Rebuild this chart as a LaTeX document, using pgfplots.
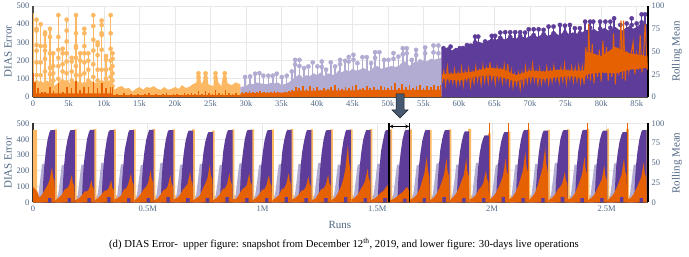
\documentclass[border=0pt]{standalone}
\usepackage{fontspec}
\setmainfont{Liberation Serif}
\usepackage{pgfplots}
\pgfplotsset{compat=1.18}
\definecolor{cL}{HTML}{FDB863}
\definecolor{cV}{HTML}{B2ABD2}
\definecolor{cP}{HTML}{5E3C99}
\definecolor{cO}{HTML}{E66101}
\definecolor{cT}{HTML}{506784}
\definecolor{cG}{HTML}{E8E8E8}
\definecolor{cA}{HTML}{46596F}
\pgfplotsset{
  base/.style={scale only axis,width=615pt,anchor=south west,
    /pgf/number format/assume math mode=true,
    tick style={draw=none},
    tick label style={font=\fontsize{8.5}{10}\selectfont,text=cT},
    label style={font=\fontsize{11}{13}\selectfont,text=cT},
    ymin=0,
    clip=true},
  stems/.style={ycomb,mark=none,line width=1.5pt},
  dots/.style={only marks,mark=*,mark size=2.1pt},
  table/dayx/.style={row sep=\\,header=false,x expr=0.096+\thisrowno{0}*0.08595,y index=1}
}
\begin{document}
\begin{tikzpicture}[x=1pt,y=1pt]
\useasboundingbox (0,0) rectangle (689,257);
%% ---------- upper, left scale
\begin{axis}[base,at={(33pt,160pt)},height=91pt,xmin=0,xmax=86.6,ymax=500,
  axis x line*=bottom,axis y line*=left,axis line style={draw=black!70,line width=1.3pt,-},
  grid=major,grid style={cG,line width=0.9pt},
  xtick={0,5,10,15,20,25,30,35,40,45,50,55,60,65,70,75,80,85},
  xticklabels={0,5k,10k,15k,20k,25k,30k,35k,40k,45k,50k,55k,60k,65k,70k,75k,80k,85k},
  ytick={0,100,200,300,400,500},
  ylabel={DIAS Error},ylabel style={at={(axis description cs:-0.0407,0.5)},anchor=center}]
% light orange: stems up to the top of each group of points
\addplot[stems,cL] coordinates {(0.05,460)(0.5,425)(1.08,400)(1.69,355)(2.39,375)(2.85,240)(3.57,450)(4.18,265)(4.74,425)(5.45,215)(6.05,450)(6.65,240)(7.23,375)(7.79,240)(8.49,450)(9.1,300)(9.67,420)(10.28,225)(10.94,450)(11.2,240)};
\addplot[fill=cL,draw=none] coordinates {(0,0)(0,85)(1,70)(2,90)(3,60)(4,95)(5,75)(6,90)(7,70)(8,90)(9,75)(10,85)(11.2,95)(11.2,0)};
\addplot[dots,cL] coordinates {
(0.5,425)(0.5,375)(0.5,365)(0.5,285)(0.5,255)(0.5,190)(0.5,120)(0.5,80)(0.5,40)
(1.08,400)(1.08,280)(1.08,190)(1.08,120)(1.08,75)(1.08,35)
(1.69,355)(1.69,345)(1.69,280)(1.69,255)(1.69,210)(1.69,140)(1.69,70)
(2.39,375)(2.39,330)(2.39,240)(2.39,160)(2.39,125)(2.39,70)(2.39,30)
(2.85,240)(2.85,170)(2.85,130)(2.85,90)(2.85,50)
(3.57,450)(3.57,330)(3.57,260)(3.57,215)(3.57,170)(3.57,100)(3.57,50)
(4.18,265)(4.18,240)(4.18,180)(4.18,140)(4.18,85)(4.18,40)
(4.74,425)(4.74,365)(4.74,305)(4.74,240)(4.74,195)(4.74,130)(4.74,80)(4.74,30)
(5.45,215)(5.45,195)(5.45,140)(5.45,90)(5.45,50)
(6.05,450)(6.05,350)(6.05,280)(6.05,270)(6.05,215)(6.05,170)(6.05,120)(6.05,60)
(6.65,240)(6.65,200)(6.65,120)(6.65,70)(6.65,40)
(7.23,375)(7.23,350)(7.23,280)(7.23,240)(7.23,190)(7.23,130)(7.23,70)
(7.79,240)(7.79,200)(7.79,150)(7.79,90)(7.79,40)
(8.49,450)(8.49,390)(8.49,315)(8.49,255)(8.49,180)(8.49,110)(8.49,60)
(9.1,300)(9.1,285)(9.1,230)(9.1,150)(9.1,90)(9.1,50)
(9.67,420)(9.67,395)(9.67,350)(9.67,340)(9.67,260)(9.67,150)(9.67,80)
(10.28,225)(10.28,205)(10.28,150)(10.28,100)(10.28,50)
(10.94,450)(10.94,350)(10.94,265)(10.94,200)(10.94,155)(10.94,110)(10.94,70)
(11.2,240)(11.2,210)(11.2,170)(11.2,130)(11.2,90)(11.2,60)(11.2,30)
(23.3,130)(23.3,110)(24.3,130)(24.3,105)(25.7,130)(25.7,105)(27,130)(27,100)};
\addplot[fill=cL,draw=none] coordinates {(11.0,0)(11.2,60)(11.5,40)(12,55)(12.5,60)(13,45)(13.5,50)(14,30)(14.5,45)(15,55)(15.5,40)(16,55)(16.5,50)(17,60)(17.5,45)(18,40)(18.5,55)(19,40)(19.5,45)(20,55)(20.5,45)(21,65)(21.5,50)(22,55)(22.5,70)(23,80)(23.15,130)(23.45,130)(23.7,70)(24,90)(24.15,130)(24.45,130)(24.7,70)(25,65)(25.4,60)(25.55,130)(25.85,130)(26.1,80)(26.5,60)(26.85,130)(27.15,130)(27.4,75)(28,65)(28.5,80)(29.2,70)(29.2,0)};
% lavender
\addplot[stems,cV] coordinates {(29.86,110)(30.57,113)(31.27,128)(31.88,131)(32.44,117)(33.15,117)(33.76,117)(34.32,128)(35.03,110)(35.73,117)(36.44,140)(36.91,204)(37.52,204)(38.17,159)(38.78,168)(39.39,190)(40.05,168)(40.66,195)(41.27,150)(41.93,190)(42.54,168)(43.24,204)(43.95,199)(44.46,195)(45.12,232)(45.68,186)(46.39,219)(47,219)(47.61,186)(48.17,246)(48.78,246)(49.44,204)(50.05,204)(50.76,241)(51.46,222)(52.07,268)(52.63,268)(53.34,204)(53.95,259)(54.51,195)(55.22,272)(56.39,283)(57.09,283)};
\addplot[dots,cV] coordinates {(29.86,110)(30.57,113)(31.27,128)(31.88,131)(32.44,117)(33.15,117)(33.76,117)(34.32,128)(35.03,110)(35.73,117)(36.44,140)(36.91,204)(36.91,178)(37.52,204)(37.52,170)(38.17,159)(38.78,168)(39.39,190)(40.05,168)(40.66,195)(40.66,165)(41.27,150)(41.93,190)(42.54,168)(43.24,204)(43.24,180)(43.95,199)(44.46,195)(44.46,220)(45.12,232)(45.12,205)(45.68,186)(46.39,219)(47,219)(47.61,186)(48.17,246)(48.17,215)(48.78,246)(49.44,204)(50.05,204)(50.76,241)(50.76,210)(51.46,222)(52.07,268)(52.07,235)(52.63,268)(52.63,240)(53.34,204)(53.95,259)(53.95,230)(54.51,195)(55.22,272)(55.22,240)(56.39,283)(56.39,245)(57.09,283)(57.09,240)};
\addplot[fill=cV,draw=none] coordinates {(29.2,0)(29.2,55)(30,60)(30.5,75)(31,70)(31.5,80)(32,75)(32.5,72)(33,70)(33.5,78)(34,75)(34.5,80)(35,65)(35.5,72)(36,80)(36.5,95)(37,110)(37.5,125)(38,105)(38.5,120)(39,115)(39.5,130)(40,120)(40.5,135)(41,115)(41.5,130)(42,125)(42.5,120)(43,145)(43.5,135)(44,150)(44.5,140)(45,155)(45.5,145)(46,150)(46.5,160)(47,150)(47.5,140)(48,165)(48.5,170)(49,155)(49.5,160)(50,165)(50.5,170)(51,165)(51.5,170)(52,190)(52.5,195)(53,170)(53.5,185)(54,200)(54.5,175)(55,205)(55.5,195)(56,210)(56.5,205)(57.5,215)(57.5,0)};
% purple
\addplot[stems,cP] coordinates {(57.8,268)(58.8,277)(60.1,268)(61.1,285)(62.25,332)(62.7,332)(63.66,305)(64.6,336)(65.07,336)(65.8,354)(66.5,356)(67.2,356)(67.9,356)(68.6,356)(69.3,354)(69.8,372)(70.5,372)(71.2,372)(71.9,369)(72.6,387)(73.3,387)(74.2,396)(74.9,392)(75.6,396)(76.3,378)(77,378)(77.75,414)(78.45,414)(78.9,414)(79.86,414)(80.6,414)(81.3,414)(81.83,432)(82.7,396)(83.6,404)(84.3,432)(85,404)(85.7,454)(86.2,454)};
\addplot[dots,cP] coordinates {(57.8,268)(58.8,277)(60.1,268)(61.1,285)(62.25,332)(62.25,300)(62.7,332)(63.66,305)(64.6,336)(64.6,310)(65.07,336)(65.8,354)(65.8,325)(66.5,356)(67.2,356)(67.2,330)(67.9,356)(68.6,356)(68.6,335)(69.3,354)(69.8,372)(70.5,372)(70.5,340)(71.2,372)(71.9,369)(71.9,345)(72.6,387)(73.3,387)(73.3,350)(74.2,396)(74.9,392)(74.9,355)(75.6,396)(76.3,378)(77,378)(77,350)(77.75,414)(78.45,414)(78.45,380)(78.9,414)(79.86,414)(79.86,375)(80.6,414)(81.3,414)(81.3,380)(81.83,432)(82.7,396)(83.6,404)(84.3,432)(84.3,395)(85,404)(85.7,454)(85.7,410)(86.2,454)};
\addplot[fill=cP,draw=none] coordinates {(57.5,0)(57.5,260)(58,265)(58.5,275)(59,255)(59.5,270)(60,265)(60.5,282)(61,275)(61.5,295)(62,293)(62.5,305)(63,300)(63.5,295)(64,310)(64.5,315)(65,310)(65.5,320)(66,325)(66.5,315)(67,330)(67.5,325)(68,320)(68.5,335)(69,330)(69.5,325)(70,335)(70.5,345)(71,330)(71.5,340)(72,350)(72.5,335)(73,345)(73.5,355)(74,340)(74.5,350)(75,360)(75.5,345)(76,355)(76.5,350)(77,345)(77.5,360)(78,370)(78.5,365)(79,375)(79.5,360)(80,370)(80.5,380)(81,365)(81.5,375)(82,385)(82.5,370)(83,365)(83.5,380)(84,390)(84.5,375)(85,385)(85.5,400)(86,405)(86.6,400)(86.6,0)};
\end{axis}
%% ---------- upper, right scale
\begin{axis}[base,at={(33pt,160pt)},height=91pt,xmin=0,xmax=86.6,ymax=100,
  axis x line=none,axis y line*=right,axis line style={draw=black,line width=1.1pt,-},
  ytick={0,25,50,75,100},
  ylabel={Rolling Mean},ylabel style={at={(axis description cs:1.047,0.5)},anchor=center}]
\addplot[fill=cO,draw=none] coordinates {(0,0)(0,4)(11.2,4)(11.3,2)(29.2,2)(29.2,4)(36,5)(37,7)(57.5,8)(57.5,0)};
\addplot[fill=cO,draw=none] coordinates {(57.6,20)(60,18)(62,22)(64,24)(66,22)(68,17)(70,22)(72,20)(74,22)(76,23)(77.6,20)(78,25)(80,27)(82,26)(84,30)(86.5,32)(86.5,45)(84,48)(82,55)(80,45)(78,50)(77.6,29)(76,29)(74,30)(72,28)(70,29)(68,24)(66,31)(64,32)(62,28)(60,26)(57.6,25)};
\addplot[ycomb,mark=none,cO,line width=1.5pt] coordinates {(0.05,26)(0.25,16)(0.7,10)(1.3,6)(1.7,6)(2.4,11)(2.9,7)(3.6,15)(4.2,6)(4.8,11)(5.4,10)(6.05,18)(6.6,8)(7.2,11)(7.8,11)(8.5,16)(9.1,10)(9.7,15)(10.3,10)(10.9,11)(11.2,11)
(11.8,3)(12.3,2)(12.8,4)(13.3,2)(13.8,3)(14.3,2)(14.8,3)(15.3,2)(15.8,3)(16.3,4)(16.8,2)(17.3,3)(17.8,2)(18.3,3)(18.8,4)(19.3,2)(19.8,3)(20.3,3)(20.8,2)(21.3,4)(21.8,3)(22.3,4)(22.8,3)(23.3,7)(23.8,3)(24.3,7)(24.8,4)(25.3,3)(25.7,8)(26.2,4)(26.7,3)(27.1,8)(27.6,4)(28.1,3)(28.6,4)};
\addplot[ycomb,mark=none,cO,line width=1.7pt] coordinates {(29.5,6)(30,5)(30.5,7)(31,6)(31.5,5)(32,7)(32.5,6)(33,6)(33.5,5)(34,7)(34.5,6)(35,4)(35.5,5)(36,7)(36.5,8)(37,11)(37.5,10)(38,12)(38.5,9)(39,12)(39.5,10)(40,11)(40.5,8)(41,10)(41.5,9)(42,11)(42.5,13)(43,10)(43.5,9)(44,11)(44.5,10)(45,12)(45.5,13)(46,9)(46.5,10)(47,12)(47.5,10)(48,11)(48.5,9)(49,12)(49.5,11)(50,10)(50.5,12)(51,15)(51.5,10)(52,14)(52.5,11)(53,13)(53.5,10)(54,12)(54.5,13)(55,10)(55.5,12)(56,11)(56.5,13)(57,12)(57.4,13)};
\addplot[cO,line width=1pt,mark=none] coordinates {(57.6,15)(57.85,28)(58.1,13)(58.35,33)(58.6,17)(58.85,26)(59.1,16)(59.35,30)(59.6,14)(59.85,27)(60.1,15)(60.35,32)(60.6,13)(60.85,28)(61.1,18)(61.35,31)(61.6,12)(61.85,27)(62.1,15)(62.35,33)(62.6,18)(62.85,29)(63.1,14)(63.35,34)(63.6,17)(63.85,31)(64.1,16)(64.35,38)(64.6,19)(64.85,30)(65.1,15)(65.35,33)(65.6,19)(65.85,30)(66.1,16)(66.35,35)(66.6,18)(66.85,36)(67.1,14)(67.35,29)(67.6,11)(67.85,25)(68.1,14)(68.35,26)(68.6,9)(68.85,27)(69.1,13)(69.35,33)(69.6,16)(69.85,30)(70.1,17)(70.35,36)(70.6,18)(70.85,28)(71.1,14)(71.35,31)(71.6,15)(71.85,27)(72.1,17)(72.35,33)(72.6,15)(72.85,29)(73.1,17)(73.35,34)(73.6,19)(73.85,28)(74.1,16)(74.35,32)(74.6,18)(74.85,36)(75.1,15)(75.35,29)(75.6,19)(75.85,33)(76.1,17)(76.35,32)(76.6,18)(76.85,34)(77.1,16)(77.35,33)(77.6,14)(77.85,55)(78.1,20)(78.25,80)(78.5,18)(78.75,58)(79,15)(79.25,45)(79.5,22)(79.75,52)(80,17)(80.25,62)(80.5,26)(80.75,55)(81,18)(81.25,48)(81.5,22)(81.75,70)(82,14)(82.25,52)(82.5,24)(82.8,84)(83,20)(83.15,84)(83.4,18)(83.65,50)(83.9,28)(84.15,44)(84.5,60)(84.75,25)(85,47)(85.25,30)(85.5,68)(85.75,27)(86,50)(86.2,80)(86.5,30)};
\end{axis}
%% ---------- lower, left scale
\begin{axis}[base,at={(33pt,54.5pt)},height=79pt,xmin=0,xmax=2.68,ymax=500,
  axis x line*=bottom,axis y line*=left,axis line style={draw=black!80,line width=1.2pt,-},
  grid=major,grid style={cG,line width=0.9pt},
  xtick={0,0.5,1,1.5,2,2.5},xticklabels={0,0.5M,1M,1.5M,2M,2.5M},
  ytick={0,100,200,300,400,500},
  xlabel={Runs},xlabel style={at={(axis description cs:0.499,-0.29)},anchor=center},
  ylabel={DIAS Error},ylabel style={at={(axis description cs:-0.0407,0.5)},anchor=center}]
% light orange, one strip and low band per day
\addplot[fill=cL,draw=none] table[dayx] {
-1.12 0\\-1.12 460\\-0.91 460\\-0.91 45\\-0.7 45\\-0.7 0\\
-0.05 0\\-0.05 463\\0.09 463\\0.09 45\\0.3 40\\0.3 0\\
0.95 0\\0.95 462\\1.09 462\\1.09 40\\1.3 45\\1.3 0\\
1.95 0\\1.95 464\\2.09 464\\2.09 42\\2.3 40\\2.3 0\\
2.95 0\\2.95 462\\3.09 462\\3.09 45\\3.3 42\\3.3 0\\
3.95 0\\3.95 463\\4.09 463\\4.09 40\\4.3 45\\4.3 0\\
4.95 0\\4.95 464\\5.09 464\\5.09 42\\5.3 40\\5.3 0\\
5.95 0\\5.95 462\\6.09 462\\6.09 45\\6.3 40\\6.3 0\\
6.95 0\\6.95 463\\7.09 463\\7.09 40\\7.3 42\\7.3 0\\
7.95 0\\7.95 455\\8.09 455\\8.09 42\\8.3 45\\8.3 0\\
8.95 0\\8.95 462\\9.09 462\\9.09 45\\9.3 40\\9.3 0\\
9.95 0\\9.95 463\\10.09 463\\10.09 40\\10.3 42\\10.3 0\\
10.95 0\\10.95 462\\11.09 462\\11.09 42\\11.3 45\\11.3 0\\
11.95 0\\11.95 464\\12.09 464\\12.09 45\\12.3 40\\12.3 0\\
12.95 0\\12.95 462\\13.09 462\\13.09 40\\13.3 42\\13.3 0\\
13.95 0\\13.95 463\\14.09 463\\14.09 42\\14.3 45\\14.3 0\\
14.95 0\\14.95 462\\15.09 462\\15.09 45\\15.3 40\\15.3 0\\
15.95 0\\15.95 464\\16.09 464\\16.09 40\\16.3 42\\16.3 0\\
16.95 0\\16.95 462\\17.09 462\\17.09 42\\17.3 45\\17.3 0\\
17.95 0\\17.95 463\\18.09 463\\18.09 45\\18.3 40\\18.3 0\\
18.95 0\\18.95 460\\19.09 460\\19.09 40\\19.3 42\\19.3 0\\
19.95 0\\19.95 462\\20.09 462\\20.09 42\\20.3 45\\20.3 0\\
20.95 0\\20.95 466\\21.09 466\\21.09 45\\21.3 40\\21.3 0\\
21.95 0\\21.95 440\\22.09 440\\22.09 40\\22.3 42\\22.3 0\\
22.95 0\\22.95 450\\23.09 450\\23.09 42\\23.3 45\\23.3 0\\
23.95 0\\23.95 462\\24.09 462\\24.09 45\\24.3 40\\24.3 0\\
24.95 0\\24.95 460\\25.09 460\\25.09 40\\25.3 42\\25.3 0\\
25.95 0\\25.95 462\\26.09 462\\26.09 42\\26.3 45\\26.3 0\\
26.95 0\\26.95 466\\27.09 466\\27.09 45\\27.3 40\\27.3 0\\
27.95 0\\27.95 466\\28.09 466\\28.09 40\\28.3 42\\28.3 0\\
28.95 0\\28.95 466\\29.09 466\\29.09 42\\29.3 45\\29.3 0\\
29.95 0\\29.95 460\\30.09 460\\30.09 45\\30.3 40\\30.3 0\\
};
% lavender, one rising edge per day
\addplot[fill=cV,draw=none] table[dayx] {
-0.92 0\\-0.89 25\\-0.84 55\\-0.78 115\\-0.71 190\\-0.66 245\\-0.53 245\\-0.53 0\\
0.08 0\\0.11 25\\0.16 50\\0.22 110\\0.29 185\\0.34 235\\0.47 240\\0.47 0\\
1.08 0\\1.11 30\\1.16 55\\1.22 120\\1.29 195\\1.34 240\\1.47 240\\1.47 0\\
2.08 0\\2.11 25\\2.16 55\\2.22 105\\2.29 190\\2.34 250\\2.47 250\\2.47 0\\
3.08 0\\3.11 25\\3.16 50\\3.22 115\\3.29 190\\3.34 240\\3.47 245\\3.47 0\\
4.08 0\\4.11 30\\4.16 55\\4.22 110\\4.29 180\\4.34 235\\4.47 240\\4.47 0\\
5.08 0\\5.11 25\\5.16 60\\5.22 120\\5.29 195\\5.34 250\\5.47 250\\5.47 0\\
6.08 0\\6.11 25\\6.16 50\\6.22 105\\6.29 185\\6.34 240\\6.47 240\\6.47 0\\
7.08 0\\7.11 30\\7.16 55\\7.22 115\\7.29 190\\7.34 245\\7.47 245\\7.47 0\\
8.08 0\\8.11 25\\8.16 55\\8.22 110\\8.29 185\\8.34 235\\8.47 240\\8.47 0\\
9.08 0\\9.11 25\\9.16 50\\9.22 120\\9.29 195\\9.34 245\\9.47 250\\9.47 0\\
10.08 0\\10.11 30\\10.16 55\\10.22 110\\10.29 180\\10.34 235\\10.47 240\\10.47 0\\
11.08 0\\11.11 25\\11.16 60\\11.22 115\\11.29 190\\11.34 240\\11.47 245\\11.47 0\\
12.08 0\\12.11 25\\12.16 50\\12.22 105\\12.29 185\\12.34 245\\12.47 245\\12.47 0\\
13.08 0\\13.11 30\\13.16 55\\13.22 120\\13.29 195\\13.34 250\\13.47 250\\13.47 0\\
14.08 0\\14.11 25\\14.16 55\\14.22 110\\14.29 190\\14.34 240\\14.47 240\\14.47 0\\
15.08 0\\15.11 25\\15.16 50\\15.22 115\\15.29 185\\15.34 235\\15.47 245\\15.47 0\\
16.08 0\\16.11 30\\16.16 60\\16.22 110\\16.29 190\\16.34 245\\16.47 245\\16.47 0\\
17.08 0\\17.11 25\\17.16 55\\17.22 120\\17.29 195\\17.34 240\\17.47 240\\17.47 0\\
18.08 0\\18.11 25\\18.16 50\\18.22 105\\18.29 185\\18.34 235\\18.47 240\\18.47 0\\
19.08 0\\19.11 30\\19.16 55\\19.22 115\\19.29 190\\19.34 245\\19.47 250\\19.47 0\\
20.08 0\\20.11 25\\20.16 60\\20.22 110\\20.29 180\\20.34 240\\20.47 240\\20.47 0\\
21.08 0\\21.11 25\\21.16 50\\21.22 120\\21.29 195\\21.34 250\\21.47 250\\21.47 0\\
22.08 0\\22.11 30\\22.16 55\\22.22 110\\22.29 185\\22.34 235\\22.47 245\\22.47 0\\
23.08 0\\23.11 25\\23.16 55\\23.22 115\\23.29 190\\23.34 240\\23.47 240\\23.47 0\\
24.08 0\\24.11 25\\24.16 50\\24.22 105\\24.29 185\\24.34 245\\24.47 245\\24.47 0\\
25.08 0\\25.11 30\\25.16 60\\25.22 120\\25.29 195\\25.34 250\\25.47 250\\25.47 0\\
26.08 0\\26.11 25\\26.16 55\\26.22 110\\26.29 190\\26.34 240\\26.47 240\\26.47 0\\
27.08 0\\27.11 25\\27.16 50\\27.22 115\\27.29 185\\27.34 235\\27.47 245\\27.47 0\\
28.08 0\\28.11 30\\28.16 55\\28.22 110\\28.29 190\\28.34 245\\28.47 250\\28.47 0\\
29.08 0\\29.11 25\\29.16 60\\29.22 120\\29.29 195\\29.34 240\\29.47 240\\29.47 0\\
};
% purple, one rising edge per day
\addplot[fill=cP,draw=none] table[dayx] {
-0.64 0\\-0.6 130\\-0.54 240\\-0.47 320\\-0.38 395\\-0.28 445\\-0.22 458\\0 458\\0 0\\
0.36 0\\0.4 120\\0.46 235\\0.53 325\\0.62 390\\0.72 440\\0.78 458\\1 458\\1 0\\
1.36 0\\1.4 135\\1.46 245\\1.53 315\\1.62 400\\1.72 445\\1.78 460\\2 460\\2 0\\
2.36 0\\2.4 125\\2.46 240\\2.53 320\\2.62 395\\2.72 450\\2.78 458\\3 458\\3 0\\
3.36 0\\3.4 130\\3.46 230\\3.53 330\\3.62 385\\3.72 445\\3.78 458\\4 458\\4 0\\
4.36 0\\4.4 120\\4.46 240\\4.53 320\\4.62 395\\4.72 440\\4.78 460\\5 460\\5 0\\
5.36 0\\5.4 135\\5.46 245\\5.53 325\\5.62 400\\5.72 450\\5.78 458\\6 458\\6 0\\
6.36 0\\6.4 125\\6.46 235\\6.53 315\\6.62 390\\6.72 440\\6.78 455\\7 455\\7 0\\
7.36 0\\7.4 130\\7.46 240\\7.53 320\\7.62 385\\7.72 430\\7.78 445\\8 445\\8 0\\
8.36 0\\8.4 120\\8.46 230\\8.53 325\\8.62 395\\8.72 445\\8.78 458\\9 458\\9 0\\
9.36 0\\9.4 135\\9.46 245\\9.53 320\\9.62 400\\9.72 450\\9.78 460\\10 460\\10 0\\
10.36 0\\10.4 125\\10.46 240\\10.53 315\\10.62 390\\10.72 440\\10.78 458\\11 458\\11 0\\
11.36 0\\11.4 130\\11.46 235\\11.53 330\\11.62 395\\11.72 445\\11.78 460\\12 460\\12 0\\
12.36 0\\12.4 120\\12.46 240\\12.53 320\\12.62 385\\12.72 440\\12.78 458\\13 458\\13 0\\
13.36 0\\13.4 135\\13.46 245\\13.53 325\\13.62 400\\13.72 450\\13.78 458\\14 458\\14 0\\
14.36 0\\14.4 125\\14.46 230\\14.53 315\\14.62 390\\14.72 445\\14.78 460\\15 460\\15 0\\
15.36 0\\15.4 130\\15.46 240\\15.53 320\\15.62 395\\15.72 440\\15.78 458\\16 458\\16 0\\
16.36 0\\16.4 120\\16.46 235\\16.53 325\\16.62 385\\16.72 445\\16.78 458\\17 458\\17 0\\
17.36 0\\17.4 135\\17.46 245\\17.53 320\\17.62 400\\17.72 450\\17.78 460\\18 460\\18 0\\
18.36 0\\18.4 125\\18.46 240\\18.53 315\\18.62 390\\18.72 440\\18.78 458\\19 458\\19 0\\
19.36 0\\19.4 130\\19.46 230\\19.53 330\\19.62 395\\19.72 445\\19.78 458\\20 458\\20 0\\
20.36 0\\20.4 120\\20.46 240\\20.53 320\\20.62 385\\20.72 435\\20.78 450\\21 450\\21 0\\
21.36 0\\21.4 135\\21.46 235\\21.53 310\\21.62 370\\21.72 410\\21.78 425\\22 425\\22 0\\
22.36 0\\22.4 125\\22.46 240\\22.53 320\\22.62 385\\22.72 430\\22.78 445\\23 445\\23 0\\
23.36 0\\23.4 130\\23.46 245\\23.53 325\\23.62 395\\23.72 445\\23.78 458\\24 458\\24 0\\
24.36 0\\24.4 120\\24.46 230\\24.53 315\\24.62 390\\24.72 440\\24.78 455\\25 455\\25 0\\
25.36 0\\25.4 135\\25.46 240\\25.53 320\\25.62 400\\25.72 445\\25.78 458\\26 458\\26 0\\
26.36 0\\26.4 125\\26.46 235\\26.53 325\\26.62 390\\26.72 450\\26.78 460\\27 460\\27 0\\
27.36 0\\27.4 130\\27.46 240\\27.53 320\\27.62 395\\27.72 440\\27.78 455\\28 455\\28 0\\
28.36 0\\28.4 120\\28.46 245\\28.53 315\\28.62 385\\28.72 430\\28.78 445\\29 445\\29 0\\
29.36 0\\29.4 135\\29.46 240\\29.53 320\\29.62 395\\29.72 445\\29.78 458\\30 458\\30 0\\
};
\end{axis}
%% ---------- lower, right scale
\begin{axis}[base,at={(33pt,54.5pt)},height=79pt,xmin=0,xmax=2.68,ymax=100,
  axis x line=none,axis y line*=right,axis line style={draw=black,line width=1.1pt,-},
  ytick={0,25,50,75,100},
  ylabel={Rolling Mean},ylabel style={at={(axis description cs:1.047,0.5)},anchor=center}]
\addplot[fill=cO,draw=none] table[dayx] {
-1.12 0\\-1.12 20\\-0.9 14\\-0.8 6\\-0.65 10\\-0.5 17\\-0.38 22\\-0.28 28\\-0.15 45\\-0.1 32\\-0.02 27\\0 0\\-0.18 0\\-0.18 6\\-0.36 6\\-0.36 0\\
0.02 0\\0.02 3\\0.2 6\\0.35 10\\0.5 17\\0.62 18\\0.72 22\\0.85 35\\0.9 25\\0.98 21\\1 0\\0.82 0\\0.82 6\\0.64 6\\0.64 0\\
1.02 0\\1.02 3\\1.2 5\\1.35 9\\1.5 14\\1.62 14\\1.72 17\\1.85 28\\1.9 20\\1.98 17\\2 0\\1.82 0\\1.82 6\\1.64 6\\1.64 0\\
2.02 0\\2.02 3\\2.2 6\\2.35 10\\2.5 15\\2.62 15\\2.72 18\\2.85 28\\2.9 19\\2.98 16\\3 0\\2.82 0\\2.82 7\\2.64 7\\2.64 0\\
3.02 0\\3.02 4\\3.2 6\\3.35 9\\3.5 17\\3.62 18\\3.72 24\\3.85 37\\3.9 27\\3.98 22\\4 0\\3.82 0\\3.82 6\\3.64 6\\3.64 0\\
4.02 0\\4.02 3\\4.2 6\\4.35 11\\4.5 17\\4.62 20\\4.72 25\\4.85 41\\4.9 30\\4.98 25\\5 0\\4.82 0\\4.82 6\\4.64 6\\4.64 0\\
5.02 0\\5.02 3\\5.2 5\\5.35 10\\5.5 16\\5.62 17\\5.72 21\\5.85 35\\5.9 25\\5.98 20\\6 0\\5.82 0\\5.82 7\\5.64 7\\5.64 0\\
6.02 0\\6.02 4\\6.2 6\\6.35 10\\6.5 17\\6.62 20\\6.72 24\\6.85 39\\6.9 28\\6.98 24\\7 0\\6.82 0\\6.82 6\\6.64 6\\6.64 0\\
7.02 0\\7.02 3\\7.2 6\\7.35 9\\7.5 18\\7.62 24\\7.72 30\\7.85 48\\7.9 34\\7.98 29\\8 0\\7.82 0\\7.82 6\\7.64 6\\7.64 0\\
8.02 0\\8.02 3\\8.2 6\\8.35 10\\8.5 17\\8.62 18\\8.72 23\\8.85 37\\8.9 27\\8.98 22\\9 0\\8.82 0\\8.82 7\\8.64 7\\8.64 0\\
9.02 0\\9.02 4\\9.2 5\\9.35 11\\9.5 17\\9.62 19\\9.72 22\\9.85 37\\9.9 26\\9.98 22\\10 0\\9.82 0\\9.82 6\\9.64 6\\9.64 0\\
10.02 0\\10.02 3\\10.2 6\\10.35 10\\10.5 16\\10.62 17\\10.72 22\\10.85 35\\10.9 25\\10.98 21\\11 0\\10.82 0\\10.82 6\\10.64 6\\10.64 0\\
11.02 0\\11.02 3\\11.2 6\\11.35 9\\11.5 17\\11.62 18\\11.72 23\\11.85 37\\11.9 27\\11.98 22\\12 0\\11.82 0\\11.82 7\\11.64 7\\11.64 0\\
12.02 0\\12.02 4\\12.2 6\\12.35 10\\12.5 15\\12.62 16\\12.72 20\\12.85 33\\12.9 24\\12.98 20\\13 0\\12.82 0\\12.82 6\\12.64 6\\12.64 0\\
13.02 0\\13.02 3\\13.2 5\\13.35 11\\13.5 17\\13.62 18\\13.72 22\\13.85 35\\13.9 25\\13.98 21\\14 0\\13.82 0\\13.82 6\\13.64 6\\13.64 0\\
14.02 0\\14.02 3\\14.2 6\\14.35 12\\14.5 20\\14.62 30\\14.72 42\\14.85 73\\14.9 52\\14.98 40\\15 0\\14.82 0\\14.82 7\\14.64 7\\14.64 0\\
15.02 0\\15.02 4\\15.2 6\\15.35 10\\15.5 17\\15.62 22\\15.72 27\\15.85 43\\15.9 31\\15.98 26\\16 0\\15.82 0\\15.82 6\\15.64 6\\15.64 0\\
16.02 0\\16.02 3\\16.2 5\\16.35 8\\16.5 12\\16.62 14\\16.72 17\\16.85 22\\16.9 18\\16.98 14\\17 0\\16.82 0\\16.82 6\\16.64 6\\16.64 0\\
17.02 0\\17.02 3\\17.2 5\\17.35 8\\17.5 11\\17.62 13\\17.72 16\\17.85 20\\17.9 17\\17.98 13\\18 0\\17.82 0\\17.82 5\\17.64 5\\17.64 0\\
18.02 0\\18.02 4\\18.2 6\\18.35 10\\18.5 18\\18.62 28\\18.72 36\\18.85 58\\18.9 42\\18.98 32\\19 0\\18.82 0\\18.82 6\\18.64 6\\18.64 0\\
19.02 0\\19.02 3\\19.2 6\\19.35 11\\19.5 19\\19.62 27\\19.72 35\\19.85 56\\19.9 40\\19.98 33\\20 0\\19.82 0\\19.82 7\\19.64 7\\19.64 0\\
20.02 0\\20.02 3\\20.2 7\\20.35 12\\20.5 20\\20.62 28\\20.72 34\\20.85 56\\20.9 41\\20.98 33\\21 0\\20.82 0\\20.82 6\\20.64 6\\20.64 0\\
21.02 0\\21.02 4\\21.2 6\\21.35 10\\21.5 17\\21.62 20\\21.72 25\\21.85 41\\21.9 30\\21.98 25\\22 0\\21.82 0\\21.82 6\\21.64 6\\21.64 0\\
22.02 0\\22.02 3\\22.2 7\\22.35 12\\22.5 20\\22.62 27\\22.72 35\\22.85 56\\22.9 40\\22.98 34\\23 0\\22.82 0\\22.82 7\\22.64 7\\22.64 0\\
23.02 0\\23.02 4\\23.2 7\\23.35 13\\23.5 22\\23.62 32\\23.72 40\\23.85 64\\23.9 46\\23.98 38\\24 0\\23.82 0\\23.82 6\\23.64 6\\23.64 0\\
24.02 0\\24.02 3\\24.2 7\\24.35 13\\24.5 24\\24.62 35\\24.72 44\\24.85 70\\24.9 50\\24.98 40\\25 0\\24.82 0\\24.82 6\\24.64 6\\24.64 0\\
25.02 0\\25.02 3\\25.2 6\\25.35 10\\25.5 17\\25.62 20\\25.72 24\\25.85 39\\25.9 28\\25.98 24\\26 0\\25.82 0\\25.82 7\\25.64 7\\25.64 0\\
26.02 0\\26.02 4\\26.2 6\\26.35 11\\26.5 20\\26.62 28\\26.72 36\\26.85 58\\26.9 42\\26.98 35\\27 0\\26.82 0\\26.82 6\\26.64 6\\26.64 0\\
27.02 0\\27.02 3\\27.2 6\\27.35 10\\27.5 18\\27.62 24\\27.72 29\\27.85 47\\27.9 34\\27.98 28\\28 0\\27.82 0\\27.82 6\\27.64 6\\27.64 0\\
28.02 0\\28.02 3\\28.2 7\\28.35 12\\28.5 20\\28.62 28\\28.72 35\\28.85 56\\28.9 40\\28.98 34\\29 0\\28.82 0\\28.82 7\\28.64 7\\28.64 0\\
29.02 0\\29.02 4\\29.2 6\\29.35 11\\29.5 19\\29.62 26\\29.72 32\\29.85 51\\29.9 37\\29.98 31\\30 0\\29.82 0\\29.82 6\\29.64 6\\29.64 0\\
};
\addplot[ycomb,mark=none,cO,line width=0.9pt] table[dayx] {
22 100\\23 100\\24 100\\27 100\\29 100\\
};
\end{axis}
%% ---------- annotations
\fill[cA,draw=black!65!cA,line width=0.5pt] (396,163) -- (404,163) -- (404,147) -- (408,147) -- (400,139) -- (392,147) -- (396,147) -- cycle;
\draw[black,line width=1.3pt] (389,54.5) -- (389,134);
\draw[black,line width=1.3pt] (409.5,54.5) -- (409.5,134);
\draw[black,line width=0.7pt,<->,>=stealth] (389.5,130.5) -- (409,130.5);
\node[font=\fontsize{10.7}{13}\selectfont,text=black] at (344,13) {(d) DIAS Error-\ \ upper figure: snapshot from December 12\textsuperscript{th}, 2019, and lower figure: 30-days live operations};
\end{tikzpicture}
\end{document}
